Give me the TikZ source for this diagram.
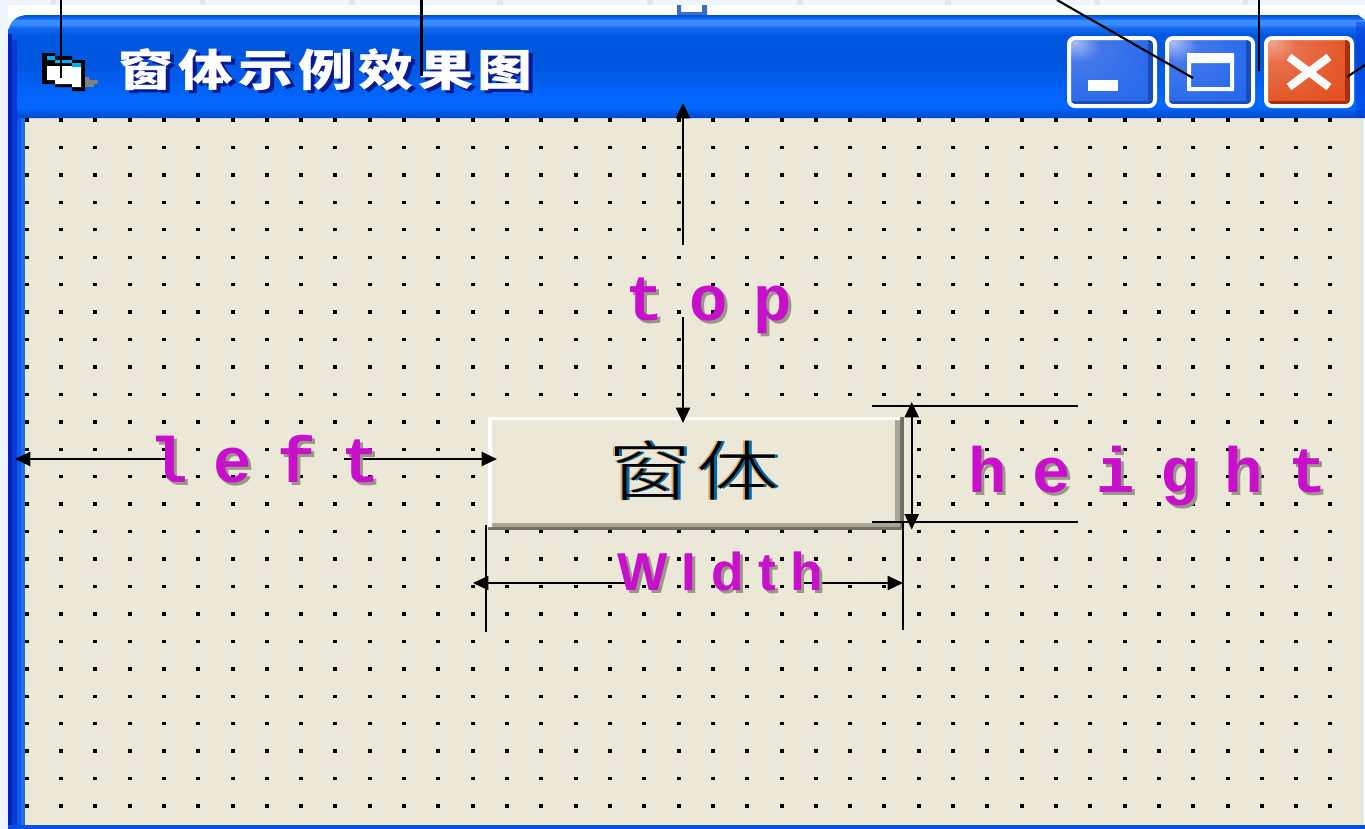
\documentclass[tikz,border=0pt]{standalone}
\usepackage{fontspec}
\usetikzlibrary{arrows.meta}
\newfontfamily\titlecjk[LetterSpace=9]{Noto Sans CJK SC}
\newfontfamily\btncjk[LetterSpace=6]{Noto Sans CJK SC Light}
\newfontfamily\labmono[LetterSpace=40]{Liberation Mono}
\newfontfamily\labsans[LetterSpace=27]{Liberation Sans}
\definecolor{pagebg}{HTML}{EFF6FE}
\definecolor{tickgr}{HTML}{E4E6EA}
\definecolor{bodybg}{HTML}{EBE8D8}
\definecolor{magen}{HTML}{C810CC}
\definecolor{shad}{HTML}{9A9688}
\definecolor{tshad}{HTML}{0A1A8C}
\definecolor{btnlt}{HTML}{A8A594}
\definecolor{btndk}{HTML}{716F64}
\definecolor{notchc}{HTML}{3A6EC0}
\definecolor{sidea}{HTML}{0020C0}
\definecolor{sideb}{HTML}{0838D8}
\definecolor{sidec}{HTML}{0F5BE6}
\definecolor{sided}{HTML}{1E70F0}
\definecolor{bottomc}{HTML}{0A50E0}
\definecolor{txto}{HTML}{E8A85C}
\definecolor{txtb}{HTML}{006AA8}
\definecolor{ta}{HTML}{0048D0}
\definecolor{tb}{HTML}{0058E8}
\definecolor{tc}{HTML}{0068FF}
\definecolor{td}{HTML}{0062F5}
\definecolor{te}{HTML}{0056DE}
\definecolor{tf}{HTML}{0058E0}
\definecolor{tg}{HTML}{1468F0}
\definecolor{th}{HTML}{3A8CFF}
\definecolor{ti}{HTML}{1A70F0}
\definecolor{tj}{HTML}{0050E0}
\definecolor{ba}{HTML}{A8BCF2}
\definecolor{bb}{HTML}{4478EA}
\definecolor{bc}{HTML}{2C6CEC}
\definecolor{bd}{HTML}{1F66F2}
\definecolor{be}{HTML}{1C4CB8}
\definecolor{ca}{HTML}{EFA48C}
\definecolor{cb}{HTML}{E8704C}
\definecolor{cc}{HTML}{E4582A}
\definecolor{cd}{HTML}{E0440E}
\definecolor{ce}{HTML}{A83010}
\pgfdeclareverticalshading{titlebar}{100bp}{color(0bp)=(ta);color(25bp)=(ta);color(28.4bp)=(tb);color(29.85bp)=(tc);color(38.6bp)=(td);color(53.2bp)=(te);color(65.3bp)=(tf);color(68.7bp)=(tg);color(70.6bp)=(th);color(72.6bp)=(th);color(73.1bp)=(ti);color(75bp)=(tj);color(100bp)=(tj)}
\pgfdeclareradialshading{bluebtn}{\pgfpoint{-22bp}{22bp}}{color(0bp)=(ba);color(12bp)=(bb);color(34bp)=(bc);color(60bp)=(bd);color(100bp)=(bd)}
\pgfdeclareradialshading{redbtn}{\pgfpoint{-22bp}{22bp}}{color(0bp)=(ca);color(12bp)=(cb);color(34bp)=(cc);color(60bp)=(cd);color(100bp)=(cd)}
\tikzset{
  x=0.75pt,y=-0.75pt,
  conn/.style={draw=black,line width=1.6pt},
  arr/.style={conn,-{Triangle[length=11.5pt,width=10.5pt]}},
  arrboth/.style={conn,{Triangle[length=11.5pt,width=10.5pt]}-{Triangle[length=11.5pt,width=10.5pt]}},
  labm/.style={inner sep=0pt,anchor=base west,font=\labmono\bfseries\fontsize{48}{48}\selectfont},
  labw/.style={inner sep=0pt,anchor=base west,font=\labsans\bfseries\fontsize{40}{40}\selectfont},
  titl/.style={inner sep=0pt,anchor=base west,xscale=1.25,font=\titlecjk\bfseries\fontsize{33}{33}\selectfont},
  btnt/.style={inner sep=0pt,anchor=base west,xscale=1.27,font=\btncjk\fontsize{49}{49}\selectfont},
  winbtn/.style={draw=white,line width=3pt,rounded corners=4.5pt},
}
\begin{document}
\begin{tikzpicture}
\useasboundingbox (0,0) rectangle (1365,829);
% page backdrop
\fill[pagebg] (0,0) rectangle (1365,829);
\foreach \tx in {53,203,352,500,650,800,948,1097,1245}
  \fill[tickgr] (\tx-3,0) rectangle (\tx+3,5);
\fill[white] (8,5) rectangle (1365,15);
\fill[white] (8,15) rectangle (30,36);
% notch
\fill[white] (677,5) rectangle (707,15);
\fill[notchc] (677,5) -- (681,5) -- (681,12) -- (702,12) -- (702,5) -- (707,5) -- (707,15) -- (677,15) -- cycle;
% side and bottom border
\fill[sidea] (8,30) rectangle (12,829);
\fill[sideb] (12,30) rectangle (17,829);
\fill[sidec] (17,30) rectangle (21,829);
\fill[sided] (21,30) rectangle (25,829);
\fill[bottomc] (8,825) rectangle (1365,829);
% body
\fill[bodybg] (25,118) rectangle (1363,825);
% title bar
\shade[shading=titlebar] (8,118) -- (8,33) .. controls (9,22) and (16,15) .. (28,15) -- (1358,15) -- (1365,20) -- (1365,118) -- cycle;
\fill[sidea] (8,34) rectangle (12,118);
\fill[sideb] (12,40) rectangle (17,118);
\fill[sideb,opacity=.45] (1356,22) rectangle (1365,118);
% grid
\foreach \i in {0,...,38}
  \foreach \j in {0,...,25}
    \fill[black] ({26.7+34.31*\i-2},{120+27.44*\j-1.7}) rectangle ++(4,3.4);
% icon
\fill[black] (42,53) -- (55,53) -- (55,56) -- (72,56) -- (72,60) -- (85,60) -- (85,91) -- (72,91) -- (72,87) -- (55,87) -- (55,84) -- (42,84) -- cycle;
\fill[white] (47,66) -- (81,66) -- (81,87) -- (72,87) -- (72,84) -- (55,84) -- (55,80) -- (47,80) -- cycle;
\fill[cyan] (47,56) rectangle (55,60) (55,60) rectangle (72,63) (72,63) rectangle (81,67);
\fill[gray] (85,77) -- (89,77) -- (89,80) -- (97.5,80) -- (97.5,84) -- (94,84) -- (94,87) -- (85,87) -- cycle;
% title text
\node[titl,text=tshad] (titleS) at (122,89) {窗体示例效果图};
\node[titl,text=white] (title) at (118,86) {窗体示例效果图};
% window buttons
\shade[shading=bluebtn,rounded corners=4.5pt] (1069,38) rectangle (1155,106);
\fill[be] (1148,38) rectangle (1155,106) (1069,101) rectangle (1155,106);
\draw[winbtn] (1069,38) rectangle (1155,106);
\fill[white] (1088,80) rectangle (1118,91);
\shade[shading=bluebtn,rounded corners=4.5pt] (1167,38) rectangle (1253,106);
\fill[be] (1246,38) rectangle (1253,106) (1167,101) rectangle (1253,106);
\draw[winbtn] (1167,38) rectangle (1253,106);
\fill[white,even odd rule] (1187,53) rectangle (1234,91) (1191,63) rectangle (1230,87);
\shade[shading=redbtn,rounded corners=4.5pt] (1266,38) rectangle (1352,106);
\fill[ce] (1345,38) rectangle (1352,106) (1266,101) rectangle (1352,106);
\draw[winbtn] (1266,38) rectangle (1352,106);
\draw[white,line width=6pt] (1289,57) -- (1329,87) (1329,57) -- (1289,87);
% form button
\fill[btndk] (488,417) rectangle (904,530);
\fill[btnlt] (488,417) rectangle (900,527);
\fill[bodybg] (492,420) rectangle (895,523);
\fill[white] (488,417) rectangle (492,527) (488,417) rectangle (900,420);
\node[btnt,text=txto] (btnO) at (606,495) {窗体};
\node[btnt,text=txtb] (btnB) at (611,495) {窗体};
\node[btnt,text=black] (btn) at (608.5,495) {窗体};
% connector ends
\coordinate (c1a) at (60.7,0); \coordinate (c1b) at (60.7,78);
\coordinate (c2a) at (421.5,0); \coordinate (c2b) at (421.5,76);
\coordinate (c3a) at (1057,0); \coordinate (c3b) at (1193,78);
\coordinate (c4a) at (1259,0); \coordinate (c4b) at (1259,71);
\coordinate (c5a) at (1365,65); \coordinate (c5b) at (1347,77);
\coordinate (tp0) at (683,245); \coordinate (tp1) at (683,103);
\coordinate (tp2) at (683,317); \coordinate (tp3) at (683,423);
\coordinate (lf0) at (167,459); \coordinate (lf1) at (15,459);
\coordinate (lf2) at (344,459); \coordinate (lf3) at (497,459);
\coordinate (wd0) at (625,583); \coordinate (wd1) at (473,583);
\coordinate (wd2) at (803,583); \coordinate (wd3) at (903,583);
\coordinate (wl0) at (486,525); \coordinate (wl1) at (486,632);
\coordinate (wr0) at (903,522); \coordinate (wr1) at (903,630);
\coordinate (ht0) at (872,406); \coordinate (ht1) at (1078,406);
\coordinate (hb0) at (872,522); \coordinate (hb1) at (1078,522);
\coordinate (hv0) at (911.7,402); \coordinate (hv1) at (911.7,529.5);
% connectors
\draw[conn] (c1a) -- (c1b);
\draw[conn] (c2a) -- (c2b);
\draw[conn] (c3a) -- (c3b);
\draw[conn] (c4a) -- (c4b);
\draw[conn] (c5a) -- (c5b);
\draw[arr] (tp0) -- (tp1);
\draw[arr] (tp2) -- (tp3);
\draw[arr] (lf0) -- (lf1);
\draw[arr] (lf2) -- (lf3);
\draw[arr] (wd0) -- (wd1);
\draw[arr] (wd2) -- (wd3);
\draw[conn] (wl0) -- (wl1);
\draw[conn] (wr0) -- (wr1);
\draw[conn] (ht0) -- (ht1);
\draw[conn] (hb0) -- (hb1);
\draw[arrboth] (hv0) -- (hv1);
% labels
\node[labm,text=shad] (topS) at (628,323) {top};
\node[labm,text=magen] (top) at (625,320) {top};
\node[labm,text=shad] (leftS) at (152,485) {left};
\node[labm,text=magen] (left) at (149,482) {left};
\node[labm,text=shad] (heightS) at (971,495) {height};
\node[labm,text=magen] (height) at (968,492) {height};
\node[labw,text=shad] (widthS) at (620,593) {WIdth};
\node[labw,text=magen] (width) at (617,590) {WIdth};
\end{tikzpicture}
\end{document}
